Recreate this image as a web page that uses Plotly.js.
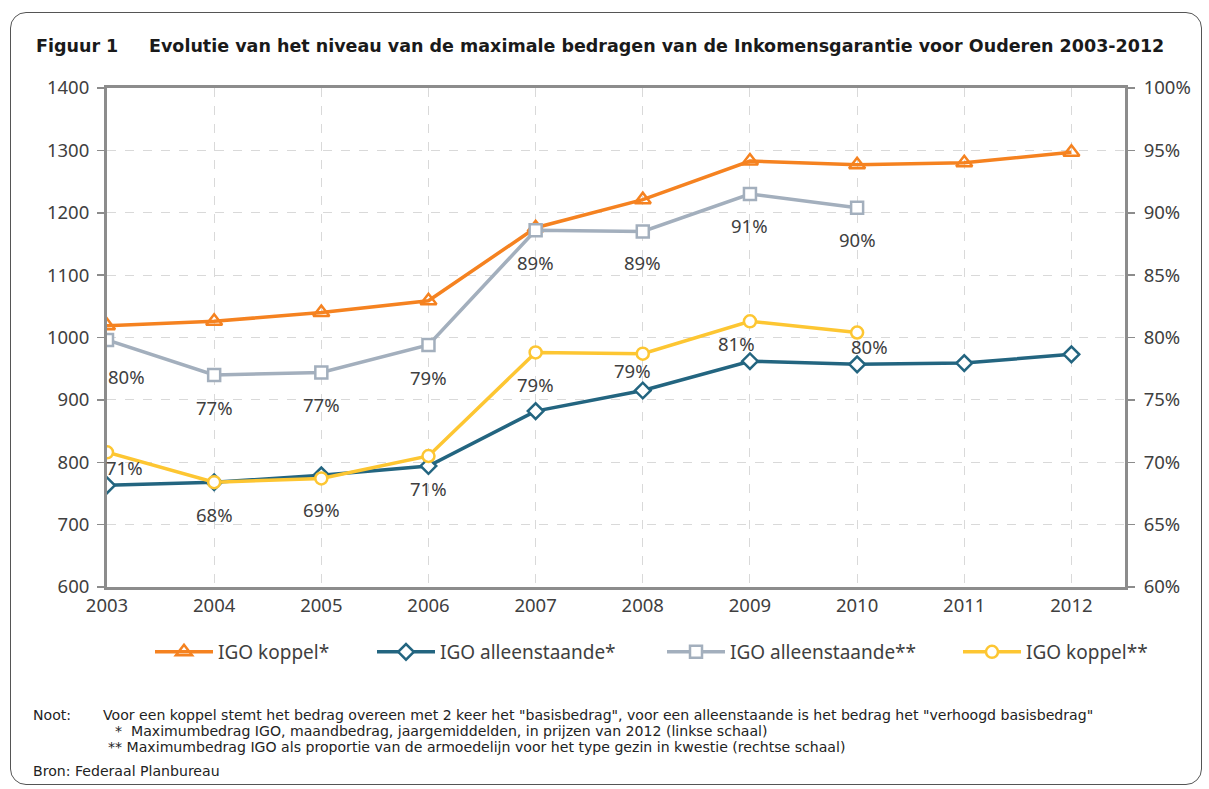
<!DOCTYPE html>
<html>
<head>
<meta charset="utf-8">
<script src="https://cdn.plot.ly/plotly-3.0.1.min.js"></script>
<style>
  html, body { margin: 0; padding: 0; background: #fff; }
  #wrap { position: relative; width: 1209px; height: 789px; }
  #chart { width: 1209px; height: 789px; }
  #frame { position: absolute; left: 10px; top: 12px; width: 1192px; height: 773px;
           border: 1.3px solid #555; border-radius: 16px; pointer-events: none; box-sizing: border-box; }
</style>
</head>
<body>
<div id="wrap">
  <div id="chart"></div>
  <div id="frame"></div>
</div>
<script>
// ---- data ----
const years = [2003, 2004, 2005, 2006, 2007, 2008, 2009, 2010, 2011, 2012];
const koppelAmount = [1019, 1026, 1040, 1059, 1176, 1221, 1283, 1277, 1280, 1297];      // IGO koppel* (left)
const alleenAmount = [763, 768, 779, 794, 882, 915, 962, 957, 959, 973];               // IGO alleenstaande* (left)
const yearsPct = [2003, 2004, 2005, 2006, 2007, 2008, 2009, 2010];
const alleenPct = [79.8, 77.0, 77.2, 79.4, 88.6, 88.5, 91.5, 90.4];                     // IGO alleenstaande** (right)
const koppelPct = [70.8, 68.4, 68.7, 70.5, 78.8, 78.7, 81.3, 80.4];                     // IGO koppel** (right)
const alleenPctLabels = ["80%", "77%", "77%", "79%", "89%", "89%", "91%", "90%"];
const koppelPctLabels = ["71%", "68%", "69%", "71%", "79%", "79%", "81%", "80%"];
const leftTicks = [600, 700, 800, 900, 1000, 1100, 1200, 1300, 1400];
const rightTicks = [60, 65, 70, 75, 80, 85, 90, 95, 100];
const seriesNames = ["IGO koppel*", "IGO alleenstaande*", "IGO alleenstaande**", "IGO koppel**"];
const titleLabel = "Figuur 1";
const titleText = "Evolutie van het niveau van de maximale bedragen van de Inkomensgarantie voor Ouderen 2003-2012";
const noteLines = [
  "Voor een koppel stemt het bedrag overeen met 2 keer het \"basisbedrag\", voor een alleenstaande is het bedrag het \"verhoogd basisbedrag\"",
  "*  Maximumbedrag IGO, maandbedrag, jaargemiddelden, in prijzen van 2012 (linkse schaal)",
  "** Maximumbedrag IGO als proportie van de armoedelijn voor het type gezin in kwestie (rechtse schaal)"
];
const sourceText = "Bron: Federaal Planbureau";

// ---- styling (label nudges in px, not data) ----
const alleenLabelShift = [[19, -36], [0, -33], [0, -32], [0, -33], [0, -32], [0, -31], [0, -31], [0, -32]];
const koppelLabelShift = [[17, -15], [0, -32], [0, -31], [0, -32], [0, -32], [-10, -17], [-13, -22], [12, -14]];

const L = 107, R = 84, T = 88, B = 202, W = 1209, H = 789;
const pw = W - L - R, ph = H - T - B;
const px = x => (x - L) / pw;
const py = y => (H - B - y) / ph;

const orange = "#F58220", teal = "#236580", grey = "#A3AFBD", yellow = "#FDC632";
const txtColor = "#404040";
const tickFont = { family: "Noto Sans, Open Sans, sans-serif", size: 18.5, color: txtColor };

const traces = [
  { x: years, y: koppelAmount, name: seriesNames[0], type: "scatter", mode: "lines+markers", legend: "legend",
    line: { color: orange, width: 3.5 },
    marker: { symbol: "triangle-up-open", size: 14, color: orange, line: { width: 2.5, color: orange } } },
  { x: years, y: alleenAmount, name: seriesNames[1], type: "scatter", mode: "lines+markers", legend: "legend2",
    line: { color: teal, width: 3.5 },
    marker: { symbol: "diamond", size: 12, color: "#fff", line: { width: 2.5, color: teal } } },
  { x: yearsPct, y: alleenPct, name: seriesNames[2], type: "scatter", mode: "lines+markers", yaxis: "y2", legend: "legend3",
    line: { color: grey, width: 3.5 },
    marker: { symbol: "square", size: 12, color: "#fff", line: { width: 2.5, color: grey } } },
  { x: yearsPct, y: koppelPct, name: seriesNames[3], type: "scatter", mode: "lines+markers", yaxis: "y2", legend: "legend4",
    line: { color: yellow, width: 3.5 },
    marker: { symbol: "circle", size: 12, color: "#fff", line: { width: 2.5, color: yellow } } }
];

const annotations = [];
yearsPct.forEach((yr, i) => {
  annotations.push({ x: yr, y: alleenPct[i], xref: "x", yref: "y2", text: alleenPctLabels[i],
    showarrow: false, xshift: alleenLabelShift[i][0], yshift: alleenLabelShift[i][1], font: tickFont });
  annotations.push({ x: yr, y: koppelPct[i], xref: "x", yref: "y2", text: koppelPctLabels[i],
    showarrow: false, xshift: koppelLabelShift[i][0], yshift: koppelLabelShift[i][1], font: tickFont });
});
const titleFont = { family: "DejaVu Sans, Verdana, sans-serif", size: 17.5, color: "#1a1a1a", weight: "bold" };
annotations.push({ x: px(34), y: py(46), xref: "paper", yref: "paper", xanchor: "left", yanchor: "middle",
  text: "<b>" + titleLabel + "</b>", showarrow: false, font: titleFont });
annotations.push({ x: px(147), y: py(46), xref: "paper", yref: "paper", xanchor: "left", yanchor: "middle",
  text: "<b>" + titleText + "</b>", showarrow: false, font: titleFont });
const noteFont = { family: "DejaVu Sans, Verdana, sans-serif", size: 14.1, color: "#222" };
annotations.push({ x: px(31), y: py(715), xref: "paper", yref: "paper", xanchor: "left", yanchor: "middle",
  text: "Noot:", showarrow: false, font: noteFont });
const noteX = [101, 113, 106];
noteLines.forEach((t, i) => {
  annotations.push({ x: px(noteX[i]), y: py(715 + 16 * i), xref: "paper", yref: "paper", xanchor: "left", yanchor: "middle",
    text: t, showarrow: false, font: noteFont });
});
annotations.push({ x: px(31), y: py(771), xref: "paper", yref: "paper", xanchor: "left", yanchor: "middle",
  text: sourceText, showarrow: false, font: noteFont });

const legendBase = { orientation: "h", xanchor: "left", y: py(652), yanchor: "middle",
  font: { family: "Noto Sans, Open Sans, sans-serif", size: 19, color: txtColor },
  itemwidth: 58, bgcolor: "rgba(0,0,0,0)" };
const legendX = [150, 372, 662, 958];

const layout = {
  width: W, height: H,
  margin: { l: L, r: R, t: T, b: B },
  paper_bgcolor: "#fff", plot_bgcolor: "#fff",
  showlegend: true,
  legend: Object.assign({}, legendBase, { x: px(legendX[0]) }),
  legend2: Object.assign({}, legendBase, { x: px(legendX[1]) }),
  legend3: Object.assign({}, legendBase, { x: px(legendX[2]) }),
  legend4: Object.assign({}, legendBase, { x: px(legendX[3]) }),
  xaxis: { range: [2003, 2012.5], tickvals: years, ticktext: years.map(String),
           showgrid: true, gridcolor: "#d9d9d9", griddash: "dash", gridwidth: 1,
           showline: true, linecolor: "#8c8c8c", linewidth: 3, mirror: true,
           ticks: "", tickfont: tickFont, zeroline: false },
  yaxis: { range: [600, 1400], tickvals: leftTicks, ticktext: leftTicks.map(String),
           showgrid: true, gridcolor: "#d9d9d9", griddash: "dash", gridwidth: 1,
           showline: true, linecolor: "#8c8c8c", linewidth: 3,
           ticks: "outside", ticklen: 7, tickcolor: "#8c8c8c", tickwidth: 1.5,
           tickfont: tickFont, zeroline: false, ticklabelstandoff: 4 },
  yaxis2: { range: [60, 100], overlaying: "y", side: "right", tickvals: rightTicks,
            ticktext: rightTicks.map(v => v + "%"), showgrid: false,
            showline: true, linecolor: "#8c8c8c", linewidth: 3,
            ticks: "outside", ticklen: 7, tickcolor: "#8c8c8c", tickwidth: 1.5,
            tickfont: tickFont, zeroline: false, ticklabelstandoff: 5 },
  annotations: annotations
};

Plotly.newPlot("chart", traces, layout, { displayModeBar: false, staticPlot: true });
</script>
</body>
</html>
